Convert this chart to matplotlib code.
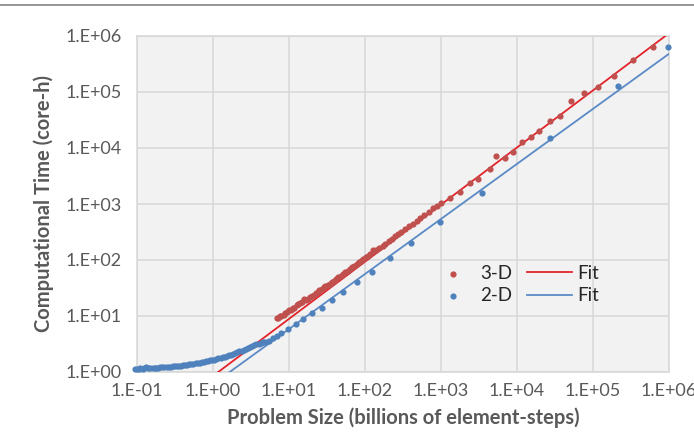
import matplotlib.pyplot as plt
import numpy as np
from matplotlib.lines import Line2D

# 3-D runs: problem size (billions of element-steps) vs core-hours
size_3d = [6.92, 7.24, 7.59, 7.94, 8.51, 8.91, 9.33, 10.0, 10.5, 11.2, 11.7, 12.6, 13.2,
           14.1, 14.8, 15.8, 16.6, 17.8, 19.1, 20.0, 21.4, 22.4, 24.0, 25.1, 26.9, 28.8,
           30.2, 32.4, 34.7, 36.3, 38.9, 41.7, 44.7, 47.9, 51.3, 55.0, 58.9, 63.1, 67.6,
           72.4, 77.6, 83.2, 89.1, 95.5, 102, 110, 117, 126, 132, 141, 155, 170, 186, 204,
           224, 251, 275, 302, 339, 380, 427, 479, 537, 603, 692, 794, 891, 1000,
           1318, 1778, 2399, 3090, 4365, 5370, 6918, 8913, 11482, 15136, 19498, 26915,
           36308, 51286, 75858, 114815, 190546, 331131, 616595]
time_3d = [9.12, 9.33, 10.0, 10.2, 10.5, 11.5, 11.7, 12.9, 12.9, 14.1, 14.1, 15.5, 16.6,
           17.0, 17.8, 20.0, 19.5, 20.4, 21.9, 22.9, 24.0, 25.7, 26.9, 28.8, 30.2, 32.4,
           34.7, 35.5, 38.0, 40.7, 42.7, 45.7, 50.1, 52.5, 56.2, 60.3, 64.6, 69.2, 74.1,
           79.4, 85.1, 91.2, 97.7, 105, 112, 117, 126, 148, 145, 148, 162, 178, 195, 214,
           234, 263, 288, 316, 355, 398, 447, 501, 562, 631, 724, 832, 933, 1047,
           1259, 1660, 2344, 2754, 4169, 7079, 6607, 8511, 12882, 15488, 20417, 30200,
           37154, 69183, 97724, 123027, 194984, 380189, 645654]

# 2-D runs
size_2d = [0.093, 0.10, 0.105, 0.11, 0.12, 0.125, 0.13, 0.14, 0.15, 0.16, 0.17, 0.18,
           0.19, 0.20, 0.215, 0.23, 0.245, 0.26, 0.28, 0.30, 0.32, 0.34, 0.36, 0.38, 0.40,
           0.43, 0.46, 0.49, 0.52, 0.55, 0.59, 0.63, 0.67, 0.71, 0.76, 0.81, 0.86, 0.92,
           0.98, 1.04, 1.11, 1.18, 1.26, 1.34, 1.43, 1.52, 1.62, 1.73, 1.84, 1.96, 2.09,
           2.23, 2.38, 2.54, 2.71, 2.89, 3.08, 3.28, 3.50, 3.73, 3.98, 4.24, 4.52, 4.82,
           5.50, 6.17, 6.92, 7.94, 9.77, 12.3, 15.5, 20.0, 26.9, 36.3, 51.3, 77.6, 123,
           214, 407, 977, 3467, 26915, 213796, 980000]
time_2d = [1.15, 1.15, 1.14, 1.16, 1.15, 1.17, 1.21, 1.18, 1.17, 1.18, 1.19, 1.19,
           1.20, 1.21, 1.21, 1.22, 1.23, 1.24, 1.25, 1.26, 1.28, 1.29, 1.30, 1.30, 1.33,
           1.35, 1.36, 1.37, 1.39, 1.40, 1.42, 1.45, 1.47, 1.49, 1.52, 1.55, 1.57, 1.61,
           1.64, 1.67, 1.71, 1.75, 1.79, 1.84, 1.89, 1.93, 1.99, 2.05, 2.11, 2.18, 2.25,
           2.33, 2.41, 2.50, 2.59, 2.69, 2.79, 2.90, 3.02, 3.15, 3.20, 3.30, 3.40, 3.50,
           3.63, 3.98, 4.42, 4.90, 5.75, 7.24, 8.71, 11.2, 14.1, 19.5, 26.9, 40.7, 61.7,
           107, 204, 479, 1585, 14791, 128825, 645654]

# power-law fits: log10(t) = slope * log10(s) + intercept
fit_3d = (1.02, -0.071)
fit_2d = (0.983, -0.216)

red_pts = '#c0504d'
blue_pts = '#4f81bd'
red_line = '#e3232a'
blue_line = '#5a8ac6'
text_gray = '#595959'
grid_gray = '#d9d9d9'

plt.rcParams['font.family'] = ['Lato', 'DejaVu Sans']

fig = plt.figure(figsize=(6.94, 4.43), dpi=100)
ax = fig.add_axes([137 / 694, 1 - 372 / 443, 532 / 694, 336 / 443])
ax.set_facecolor('#f2f2f2')

xs = np.logspace(-1, 6, 200)
ax.plot(xs, 10 ** (fit_3d[0] * np.log10(xs) + fit_3d[1]), color=red_line, lw=1.3, label='Fit', zorder=3)
ax.plot(xs, 10 ** (fit_2d[0] * np.log10(xs) + fit_2d[1]), color=blue_line, lw=1.3, label='Fit', zorder=3)
ax.scatter(size_3d, time_3d, s=20, color=red_pts, linewidths=0, label='3-D', zorder=4, clip_on=False)
ax.scatter(size_2d, time_2d, s=20, color=blue_pts, linewidths=0, label='2-D', zorder=4, clip_on=False)

ax.set_xscale('log')
ax.set_yscale('log')
ax.set_xlim(1e-1, 1e6)
ax.set_ylim(1e0, 1e6)
ax.set_xticks([10.0 ** k for k in range(-1, 7)])
ax.set_yticks([10.0 ** k for k in range(0, 7)])
ax.set_xticklabels(['1.E-01', '1.E+00', '1.E+01', '1.E+02', '1.E+03', '1.E+04', '1.E+05', '1.E+06'])
ax.set_yticklabels(['1.E+00', '1.E+01', '1.E+02', '1.E+03', '1.E+04', '1.E+05', '1.E+06'])
ax.minorticks_off()
ax.tick_params(axis='x', length=0, pad=8, labelsize=13, labelcolor=text_gray)
ax.tick_params(axis='y', length=0, pad=11, labelsize=13, labelcolor=text_gray)
ax.grid(True, color=grid_gray, lw=1.2)
ax.set_axisbelow(True)
for sp in ax.spines.values():
    sp.set_color(grid_gray)
    sp.set_linewidth(1.2)

ax.set_xlabel('Problem Size (billions of element-steps)', fontsize=14.5, fontweight='bold',
              color=text_gray, labelpad=6)
ax.set_ylabel('Computational Time (core-h)', fontsize=14.5, fontweight='bold',
              color=text_gray, labelpad=8)

h, l = ax.get_legend_handles_labels()
order = [2, 3, 0, 1]
ax.legend([h[i] for i in order], [l[i] for i in order], ncol=2, loc='upper left',
          bbox_to_anchor=(0.52, 0.37), frameon=False, fontsize=13.5,
          handlelength=2.4, handletextpad=0.25, columnspacing=0.8, labelspacing=0.3,
          scatterpoints=1, labelcolor='#262626')

fig.add_artist(Line2D([0, 1], [1 - 5 / 443, 1 - 5 / 443], transform=fig.transFigure,
                      color='#8c8c8c', lw=1.3))

fig.savefig('out.png', dpi=100)
